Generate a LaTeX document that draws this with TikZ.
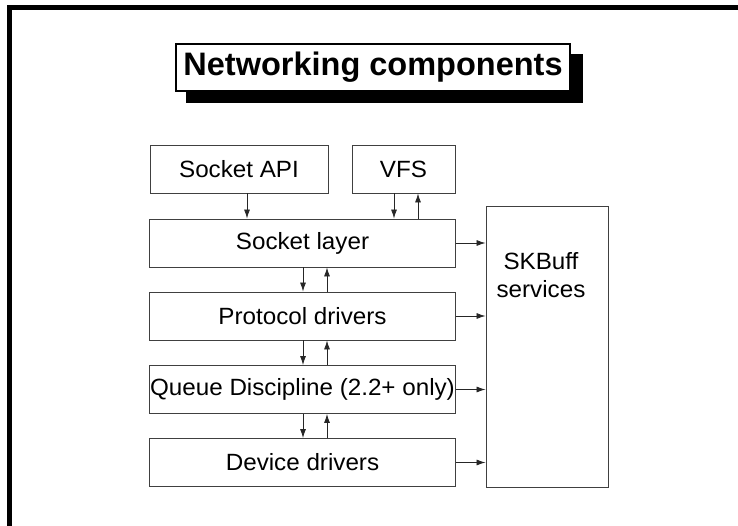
\documentclass[tikz,border=0pt]{standalone}
\usepackage{fontspec}
\setmainfont{Liberation Sans}
\newfontfamily\bodyfont[FakeStretch=1.03]{Liberation Sans}
\newfontfamily\titlefont[FakeStretch=1.0]{Liberation Sans}
\usetikzlibrary{arrows.meta}
\tikzset{
  layerbox/.style={draw=black!75, line width=0.9pt, inner sep=0pt, minimum height=48pt,
    font=\bodyfont\fontsize{23.5}{28}\selectfont},
  arr/.style={-{Latex[length=9pt,width=6pt]}, draw=black!85, line width=0.8pt},
  titlebox/.style={draw=black, line width=2pt, fill=white, inner sep=0pt,
    minimum width=394pt, minimum height=47pt,
    font=\titlefont\bfseries\fontsize{32.5}{36}\selectfont},
}
\begin{document}
\begin{tikzpicture}[x=1pt,y=-1pt]
\useasboundingbox (0,0) rectangle (738,526);
% page frame
\fill[black] (7,5) rectangle (12,526);
\fill[black] (7,5) rectangle (738,10);
% title
\fill[black] (186,54) rectangle (583,103);
\node[titlebox] (title) at (373,67.5) {\raisebox{-1.5pt}{Networking components}};
% boxes
\node[layerbox, minimum width=178pt] (sapi) at (239,169) {Socket API};
\node[layerbox, minimum width=103pt] (vfs) at (403.5,169) {VFS};
\node[layerbox, minimum width=306pt] (sock) at (302.5,243) {Socket layer};
\node[layerbox, minimum width=306pt] (proto) at (302.5,316) {Protocol drivers};
\node[layerbox, minimum width=306pt] (queue) at (302.5,389.5) {Queue Discipline (2.2+ only)};
\node[layerbox, minimum width=306pt] (dev) at (302.5,462.5) {Device drivers};
\node[layerbox, minimum width=122pt, minimum height=281pt] (skb) at (547,346.5) {};
\node[font=\bodyfont\fontsize{23.5}{28}\selectfont, align=center, inner sep=0pt] (skbtext) at (541,275) {SKBuff\\services};
% vertical arrows
\draw[arr] ([xshift=8pt]sapi.south) -- ([xshift=8pt]sapi.south |- sock.north);
\draw[arr] ([xshift=-9.5pt]vfs.south) -- ([xshift=-9.5pt]vfs.south |- sock.north);
\draw[arr] ([xshift=14.5pt]vfs.south |- sock.north) -- ([xshift=14.5pt]vfs.south);
\foreach \a/\b in {sock/proto, proto/queue, queue/dev}{
  \draw[arr] ([xshift=0.5pt]\a.south) -- ([xshift=0.5pt]\a.south |- \b.north);
  \draw[arr] ([xshift=24.5pt]\a.south |- \b.north) -- ([xshift=24.5pt]\a.south);
}
% horizontal arrows to SKBuff
\foreach \n in {sock, proto, queue, dev}{
  \draw[arr] (\n.east) -- (\n.east -| skb.west);
}
\end{tikzpicture}
\end{document}
